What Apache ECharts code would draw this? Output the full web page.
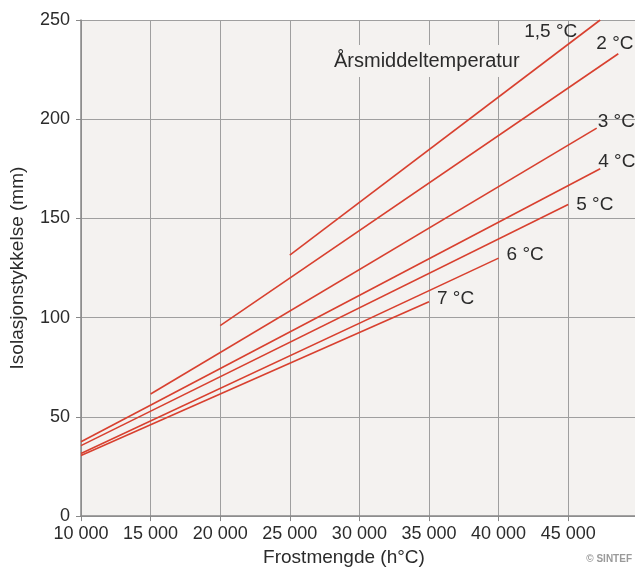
<!DOCTYPE html>
<html>
<head>
<meta charset="utf-8">
<script src="https://cdn.jsdelivr.net/npm/echarts@6/dist/echarts.min.js"></script>
<style>
  html, body { margin: 0; padding: 0; background: #fff; }
  #chart { width: 635px; height: 572px; }
</style>
</head>
<body>
<div id="chart"></div>
<script>
    // årsmiddeltemperatur per linje
    var temps = ['1,5 °C', '2 °C', '3 °C', '4 °C', '5 °C', '6 °C', '7 °C'];
    var xStart = [25000, 20000, 15000, 10000, 10000, 10000, 10000];
    var yStart = [131.5, 96, 61.5, 37.5, 35.5, 31.5, 30.5];
    var xEnd = [47300, 48600, 47050, 47300, 45000, 40000, 35000];
    var yEnd = [250, 233, 195.5, 175, 157, 130, 108];
    var xTicks = [10000, 15000, 20000, 25000, 30000, 35000, 40000, 45000];
    var yTicks = [0, 50, 100, 150, 200, 250];

    // label offsets (px) for each line end
    var labelOffsets = [[-84, 12], [-30, -10], [-7, -6], [-10, -7], [0, 0], [0, -3], [0, -3]];

    var red = '#d8402f';
    var font = 'Liberation Sans, Arial, sans-serif';

    function fmt(v) {
        return String(v).replace(/\B(?=(\d{3})+(?!\d))/g, ' ');
    }

    var series = temps.map(function (t, i) {
        return {
            name: t,
            type: 'line',
            symbol: 'none',
            silent: true,
            lineStyle: {color: red, width: 1.6},
            data: [[xStart[i], yStart[i]], [xEnd[i], yEnd[i]]],
            endLabel: {
                show: true,
                formatter: t,
                offset: labelOffsets[i],
                color: '#2b2b2b',
                fontSize: 19,
                fontFamily: font
            }
        };
    });

    var chart = echarts.init(document.getElementById('chart'));
    chart.setOption({
        animation: false,
        backgroundColor: '#fff',
        grid: {
            left: 81, right: 0, top: 20, bottom: 54,
            show: true, backgroundColor: '#f4f2f0', borderWidth: 0
        },
        xAxis: {
            type: 'value',
            min: xTicks[0],
            max: 49800,
            interval: 5000,
            name: 'Frostmengde (h°C)',
            nameLocation: 'middle',
            nameGap: 30,
            nameTextStyle: {color: '#2b2b2b', fontSize: 19, fontFamily: font, padding: [0, 28, 0, 0]},
            axisLine: {lineStyle: {color: '#888', width: 1.5}},
            axisTick: {show: true, length: 5, lineStyle: {color: '#888'}},
            axisLabel: {
                color: '#2b2b2b', fontSize: 18, fontFamily: font, margin: 9,
                showMaxLabel: false,
                formatter: function (v) { return xTicks.indexOf(v) >= 0 ? fmt(v) : ''; }
            },
            splitLine: {show: true, lineStyle: {color: '#9f9f9f', width: 1}}
        },
        yAxis: {
            type: 'value',
            min: yTicks[0],
            max: yTicks[yTicks.length - 1],
            interval: 50,
            name: 'Isolasjonstykkelse (mm)',
            nameLocation: 'middle',
            nameGap: 54,
            nameTextStyle: {color: '#2b2b2b', fontSize: 19, fontFamily: font},
            axisLine: {show: true, lineStyle: {color: '#888', width: 1.5}},
            axisTick: {show: true, length: 5, lineStyle: {color: '#888'}},
            axisLabel: {color: '#2b2b2b', fontSize: 18, fontFamily: font, margin: 11},
            splitLine: {show: true, lineStyle: {color: '#9f9f9f', width: 1}}
        },
        graphic: [
            {
                type: 'text',
                left: 332,
                top: 45,
                z: 10,
                style: {
                    text: 'Årsmiddeltemperatur',
                    fill: '#2b2b2b',
                    font: '20px ' + font,
                    backgroundColor: '#f4f2f0',
                    padding: [6, 2, 6, 2]
                }
            },
            {
                type: 'text',
                right: 3,
                top: 554,
                style: {
                    text: '© SINTEF',
                    fill: '#9a9a9a',
                    font: 'bold 10px ' + font
                }
            }
        ],
        series: series
    });
</script>
</body>
</html>
